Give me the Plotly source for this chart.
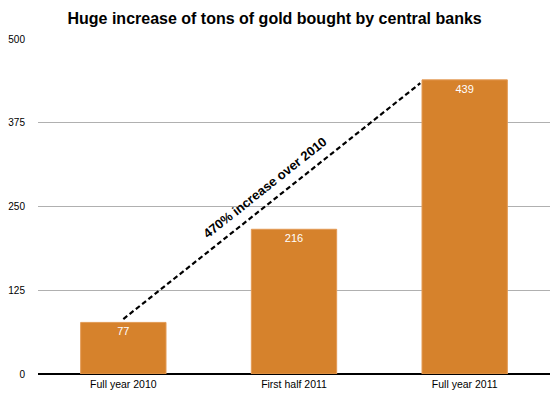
import plotly.graph_objects as go

categories = ["Full year 2010", "First half 2011", "Full year 2011"]
tons = [77, 216, 439]
tick_vals = [0, 125, 250, 375, 500]
annotation_text = "470% increase over 2010"
trend_x = [0, 1.74]
trend_y = [82, 434]

fig = go.Figure()
fig.add_trace(go.Bar(
    x=[0, 1, 2], y=tons,
    marker=dict(color="#D6822C", line=dict(color="#E39A55", width=1)),
    text=[str(v) for v in tons],
    textposition="inside", insidetextanchor="end",
    textfont=dict(color="white", size=11, family="Liberation Sans, Arial"),
    constraintext="none",
    width=0.5,
    hoverinfo="skip",
))
fig.add_trace(go.Scatter(
    x=trend_x, y=trend_y, mode="lines",
    line=dict(color="black", width=2.2, dash="5px,3px"),
    hoverinfo="skip",
))
fig.add_annotation(
    x=0.83, y=279, xref="x", yref="y",
    text="<b>" + annotation_text + "</b>",
    showarrow=False, textangle=-38.5,
    font=dict(size=13, color="black", family="Liberation Sans, Arial"),
)
fig.update_layout(
    width=552, height=390,
    margin=dict(l=30, r=10, t=31, b=24),
    paper_bgcolor="white", plot_bgcolor="white",
    showlegend=False,
    font=dict(family="Liberation Sans, Arial", size=10, color="black"),
    title=dict(text="<b>Huge increase of tons of gold bought by central banks</b>",
               x=0.483, xanchor="center", y=0.974, yanchor="middle",
               font=dict(size=16, color="black")),
    xaxis=dict(range=[-0.5, 2.5], tickvals=[0, 1, 2], ticktext=categories,
               showgrid=False, zeroline=False, showline=False, ticks="",
               tickfont=dict(size=10.5), ticklabelstandoff=2, automargin=False),
    yaxis=dict(range=[0, 500], tickvals=tick_vals, showgrid=True,
               gridcolor="#B0B0B0", gridwidth=1, zeroline=True,
               zerolinecolor="black", zerolinewidth=1.5, ticks="",
               tickfont=dict(size=10), ticklabelstandoff=12, automargin=False),
)
fig.write_html("out.html")
